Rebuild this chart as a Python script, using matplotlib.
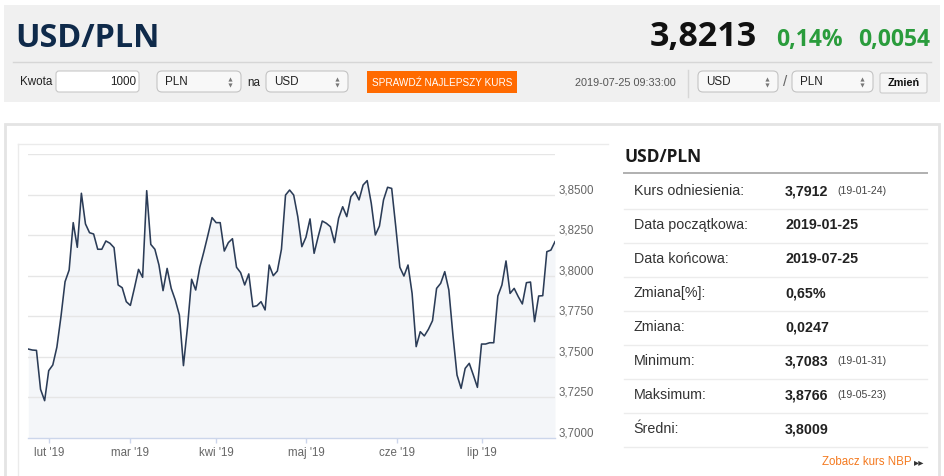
import numpy as np
import pandas as pd
import matplotlib
matplotlib.use('Agg')
import matplotlib.pyplot as plt
from matplotlib.patches import Rectangle, FancyBboxPatch
from matplotlib.transforms import ScaledTranslation

# ---------------- data ----------------
rates = [3.7548, 3.7542, 3.7540, 3.7300, 3.7230, 3.7415, 3.7450, 3.7560, 3.7748, 3.7963,
         3.8035, 3.8327, 3.8175, 3.8508, 3.8319, 3.8265, 3.8257, 3.8163, 3.8163, 3.8214,
         3.8200, 3.8173, 3.7943, 3.7926, 3.7840, 3.7817, 3.7925, 3.8039, 3.7990, 3.8524,
         3.8193, 3.8163, 3.8066, 3.7908, 3.8045, 3.7922, 3.7850, 3.7758, 3.7446, 3.7686,
         3.7978, 3.7912, 3.8052, 3.8148, 3.8251, 3.8358, 3.8327, 3.8327, 3.8152, 3.8204,
         3.8228, 3.8052, 3.8019, 3.7943, 3.8011, 3.7809, 3.7815, 3.7840, 3.7789, 3.8066,
         3.8000, 3.8029, 3.8163, 3.8497, 3.8528, 3.8497, 3.8364, 3.8179, 3.8237, 3.8350,
         3.8138, 3.8241, 3.8337, 3.8323, 3.8302, 3.8204, 3.8354, 3.8425, 3.8364, 3.8487,
         3.8518, 3.8467, 3.8559, 3.8586, 3.8446, 3.8251, 3.8306, 3.8467, 3.8545, 3.8538,
         3.8302, 3.8052, 3.7998, 3.8066, 3.7891, 3.7563, 3.7655, 3.7629, 3.7670, 3.7723,
         3.7922, 3.7953, 3.8025, 3.7912, 3.7635, 3.7388, 3.7306, 3.7429, 3.7460, 3.7388,
         3.7312, 3.7579, 3.7579, 3.7587, 3.7587, 3.7875, 3.7943, 3.8091, 3.7891, 3.7922,
         3.7871, 3.7826, 3.7957, 3.7961, 3.7717, 3.7875, 3.7877, 3.8148, 3.8158, 3.8210]
start_date = '2019-01-25'
month_starts = ['2019-02-01', '2019-03-01', '2019-04-01', '2019-05-01', '2019-06-01', '2019-07-01']
month_labels = ["lut '19", "mar '19", "kwi '19", "maj '19", "cze '19", "lip '19"]
y_labeled = [3.700, 3.725, 3.750, 3.775, 3.800, 3.825, 3.850]
y_grid = [3.700, 3.725, 3.750, 3.775, 3.800, 3.825, 3.850, 3.875]

header_pair = 'USD/PLN'
header_rate = '3,8213'
header_pct = '0,14%'
header_chg = '0,0054'
quote_time = '2019-07-25 09:33:00'

table_labels = ['Kurs odniesienia:', 'Data początkowa:', 'Data końcowa:', 'Zmiana[%]:',
                'Zmiana:', 'Minimum:', 'Maksimum:', 'Średni:']
table_values = ['3,7912', '2019-01-25', '2019-07-25', '0,65%', '0,0247', '3,7083', '3,8766', '3,8009']
table_dates = ['(19-01-24)', '', '', '', '', '(19-01-31)', '(19-05-23)', '']

# ---------------- figure ----------------
plt.rcParams['font.family'] = ['Liberation Sans', 'DejaVu Sans']
W, H = 945, 476
fig = plt.figure(figsize=(W / 100, H / 100), dpi=100)
fig.patch.set_facecolor('white')
bg = fig.add_axes([0, 0, 1, 1])
bg.set_xlim(0, W)
bg.set_ylim(H, 0)
bg.axis('off')

# header band
bg.add_patch(Rectangle((4, 5), 936, 97, fc='#f0f0f0', ec='none'))
bg.text(15, 46.7, header_pair, family=['Open Sans', 'DejaVu Sans'], weight='bold',
        fontsize=23.3, color='#0f2a4a', va='baseline', ha='left')
bg.text(757, 46, header_rate, family=['Open Sans', 'DejaVu Sans'], weight='bold',
        fontsize=24.5, color='#111111', va='baseline', ha='right')
bg.text(776, 45.7, header_pct, family=['Open Sans', 'DejaVu Sans'], weight='bold',
        fontsize=16.5, color='#2a9c3c', va='baseline', ha='left')
bg.text(930, 45.7, header_chg, family=['Open Sans', 'DejaVu Sans'], weight='bold',
        fontsize=16.5, color='#2a9c3c', va='baseline', ha='right')
bg.plot([13, 931], [62.3, 62.3], color='#d6d6d6', lw=1)

# controls row
ctl_fs = 8.4
bg.text(20, 82, 'Kwota', fontsize=ctl_fs, color='#222', va='center', ha='left')
bg.add_patch(FancyBboxPatch((56, 71), 83, 21, boxstyle='round,pad=0,rounding_size=3',
                            fc='white', ec='#c8c8c8', lw=0.8))
bg.text(136, 82, '1000', fontsize=ctl_fs, color='#222', va='center', ha='right')


def select(x0, x1, label):
    bg.add_patch(FancyBboxPatch((x0, 71), x1 - x0, 21, boxstyle='round,pad=0,rounding_size=5',
                                fc='#f8f8f8', ec='#c4c4c4', lw=0.8))
    bg.text(x0 + 8, 82, label, fontsize=ctl_fs, color='#222', va='center', ha='left')
    bg.plot([x1 - 11], [79.2], marker='^', ms=3, color='#777', mec='none')
    bg.plot([x1 - 11], [84.8], marker='v', ms=3, color='#777', mec='none')


select(157, 241, 'PLN')
bg.text(247, 82.5, 'na', fontsize=ctl_fs, color='#222', va='center', ha='left')
select(266, 348, 'USD')
bg.add_patch(Rectangle((367, 71), 150, 22, fc='#ff6a00', ec='none'))
bg.text(442, 82.8, 'SPRAWDŹ NAJLEPSZY KURS', fontsize=7.2, color='white',
        va='center', ha='center')
bg.text(575, 83, quote_time, fontsize=7.8, color='#555', va='center', ha='left')
bg.plot([688, 688], [70, 97], color='#d6d6d6', lw=1)
select(698, 778, 'USD')
bg.text(785.5, 82.5, '/', fontsize=11, color='#666', va='center', ha='center')
select(792, 873, 'PLN')
bg.add_patch(FancyBboxPatch((880, 73), 47, 20, boxstyle='round,pad=0,rounding_size=2',
                            fc='#f6f6f6', ec='#cccccc', lw=0.8))
bg.text(903.5, 83.5, 'Zmień', fontsize=7.8, weight='bold', color='#111',
        va='center', ha='center')

# main panel
bg.add_patch(Rectangle((5, 123.5), 934, 370, fc='white', ec='#e4e4e4', lw=2))
bg.plot([18, 608], [144, 144], color='#ebebeb', lw=1)
bg.plot([18, 18], [144, 480], color='#ebebeb', lw=1)

# table
bg.text(624, 157, header_pair, family=['Open Sans', 'DejaVu Sans'], weight='bold',
        fontsize=12.5, color='#1a1a1a', va='center', ha='left')
bg.plot([624, 927], [172.7, 172.7], color='#b0b0b0', lw=1.4)
row_y0, pitch = 191, 34.0
for k, (lab, val, dt) in enumerate(zip(table_labels, table_values, table_dates)):
    yc = row_y0 + k * pitch
    bg.text(633.5, yc, lab, fontsize=10.3, color='#333', va='center', ha='left')
    bg.text(785, yc, val, fontsize=10.3, weight='bold', color='#222', va='center', ha='left')
    if dt:
        bg.text(837, yc + 0.5, dt, fontsize=7.6, color='#444', va='center', ha='left')
    bg.plot([624, 927], [yc + 17.5, yc + 17.5], color='#ececec', lw=1)
bg.text(912, 462, 'Zobacz kurs NBP', fontsize=8.3, color='#f47a20', va='center', ha='right')
bg.text(914, 462, '▸▸', family=['DejaVu Sans'], fontsize=7.5, color='#333',
        va='center', ha='left')

# ---------------- chart ----------------
dates = pd.bdate_range(start=start_date, periods=len(rates))
idx = np.arange(len(rates))
L, R, T, B = 28.3, 555, 154, 438
ax = fig.add_axes([L / W, (H - B) / H, (R - L) / W, (B - T) / H])
ax.set_facecolor('none')
ax.set_xlim(0, len(rates) - 1)
ax.set_ylim(y_grid[0], y_grid[-1])

ax.fill_between(idx, rates, y_grid[0], color='#f4f6f9', lw=0, zorder=1)
for g in y_grid[1:]:
    ax.axhline(g, color='#e6e6e6', lw=1, zorder=2)
ax.plot(idx, rates, color='#2b3c57', lw=1.15, zorder=3, solid_joinstyle='round')

for s in ['top', 'left', 'right']:
    ax.spines[s].set_visible(False)
ax.spines['bottom'].set_color('#ccd6eb')
ax.spines['bottom'].set_linewidth(1)

ms_num = pd.to_datetime(month_starts).values.astype('int64')
d_num = dates.values.astype('int64')
tick_pos = np.interp(ms_num, d_num, idx)
ax.set_xticks(tick_pos)
ax.set_xticklabels(month_labels)
ax.tick_params(axis='x', direction='out', length=3.6, width=1, color='#ccd6eb',
               labelcolor='#666666', labelsize=8.3, pad=2.8)

ax.yaxis.tick_right()
ax.set_yticks(y_labeled)
ax.set_yticklabels([f'{v:.4f}'.replace('.', ',') for v in y_labeled])
ax.tick_params(axis='y', length=0, labelcolor='#666666', labelsize=8.3, pad=2.5)
off = ScaledTranslation(0, 6 / 100, fig.dpi_scale_trans)
for lab in ax.get_yticklabels():
    lab.set_transform(lab.get_transform() + off)

fig.savefig('out.png', dpi=100, facecolor='white')
